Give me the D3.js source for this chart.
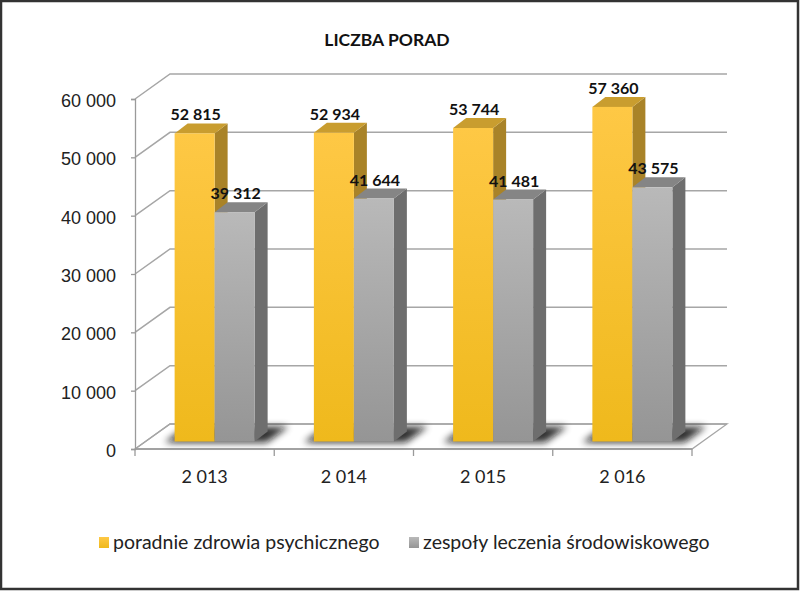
<!DOCTYPE html>
<html>
<head>
<meta charset="utf-8">
<script src="https://cdn.jsdelivr.net/npm/d3@7"></script>
<style>
  body { margin: 0; background: #fff; }
  svg { display: block; font-family: Lato, "Open Sans", sans-serif; }
  .axis text { font-size: 18px; fill: #222; }
  .axis path, .axis line { stroke: #9a9a9a; stroke-width: 1.3; }
</style>
</head>
<body>
<script>
// data
var years = [2013, 2014, 2015, 2016];
var seriesNames = ["poradnie zdrowia psychicznego", "zespoły leczenia środowiskowego"];
var poradnie = [52815, 52934, 53744, 57360];
var zespoly = [39312, 41644, 41481, 43575];
var yTicks = [0, 10000, 20000, 30000, 40000, 50000, 60000];

var width = 800, height = 591;
var wallDx = 35, wallDy = -25;     // depth of the back wall
var barOx = 10, barOy = -7.5;      // bars sit a bit behind the front plane
var barDx = 13, barDy = -10;       // bar depth

var pl = d3.formatLocale({decimal: ",", thousands: "\u00a0", grouping: [3], currency: ["", ""]});
var fmt = pl.format(",");

var svg = d3.select("body").append("svg")
    .attr("width", width)
    .attr("height", height);

var defs = svg.append("defs");
var gy = defs.append("linearGradient").attr("id", "gYellow").attr("x1", 0).attr("x2", 0).attr("y1", 0).attr("y2", 1);
gy.append("stop").attr("offset", "0%").attr("stop-color", "#fec845");
gy.append("stop").attr("offset", "100%").attr("stop-color", "#efb91c");
var gg = defs.append("linearGradient").attr("id", "gGray").attr("x1", 0).attr("x2", 0).attr("y1", 0).attr("y2", 1);
gg.append("stop").attr("offset", "0%").attr("stop-color", "#b9b9b9");
gg.append("stop").attr("offset", "100%").attr("stop-color", "#959595");
defs.append("filter").attr("id", "blur").attr("x", "-50%").attr("y", "-50%").attr("width", "200%").attr("height", "200%")
  .append("feGaussianBlur").attr("stdDeviation", 3.5);

// outer frame
svg.append("rect")
    .attr("x", 1).attr("y", 1)
    .attr("width", width - 3).attr("height", height - 3)
    .attr("fill", "none").attr("stroke", "#333").attr("stroke-width", 2.5);

var x = d3.scaleBand().domain(years).range([135, 692]);
var y = d3.scaleLinear().domain([0, 60000]).range([449, 99]);
var xs = d3.scaleBand().domain(seriesNames).range([-40, 40]);

var colors = {
  front: ["url(#gYellow)", "url(#gGray)"],
  top: ["#c99d2f", "#858585"],
  side: ["#a98328", "#6e6e6e"]
};

// floor
var x0 = x.range()[0], x1 = x.range()[1];
svg.append("path")
    .attr("d", "M" + x0 + "," + y(0) + "L" + x1 + "," + y(0) +
               "L" + (x1 + wallDx) + "," + (y(0) + wallDy) +
               "L" + (x0 + wallDx) + "," + (y(0) + wallDy) + "Z")
    .attr("fill", "#fff").attr("stroke", "#a6a6a6").attr("stroke-width", 1.3);

// walls: left diagonal + back grid lines
svg.append("g").selectAll("path")
    .data(yTicks)
    .enter().append("path")
    .attr("d", function(t) {
      return "M" + x0 + "," + y(t) + "L" + (x0 + wallDx) + "," + (y(t) + wallDy) +
             "L" + (x1 + wallDx) + "," + (y(t) + wallDy);
    })
    .attr("fill", "none").attr("stroke", "#a6a6a6").attr("stroke-width", 1.5);

// y axis
var yAxis = d3.axisLeft(y).tickValues(yTicks).tickSize(4).tickPadding(15).tickFormat(fmt);
svg.append("g").attr("class", "axis")
    .attr("transform", "translate(" + x0 + ",0)")
    .call(yAxis)
    .call(function(g) { g.selectAll("text").attr("dy", "0.42em"); });

// x axis: line, boundary ticks, labels
var xg = svg.append("g").attr("class", "axis");
xg.append("line").attr("x1", x0).attr("x2", x1).attr("y1", y(0)).attr("y2", y(0));
xg.selectAll(".tk")
    .data(years.map(function(d) { return x(d); }).concat([x1]))
    .enter().append("line")
    .attr("x1", function(d) { return d; }).attr("x2", function(d) { return d; })
    .attr("y1", y(0)).attr("y2", y(0) + 7);
xg.selectAll(".lbl")
    .data(years)
    .enter().append("text")
    .attr("x", function(d) { return x(d) + x.bandwidth() / 2; })
    .attr("y", 483)
    .attr("text-anchor", "middle")
    .text(function(d) { return fmt(d); });

var rows = years.map(function(yr, i) {
  return {year: yr, values: [poradnie[i], zespoly[i]]};
});

var gBars = svg.append("g");
rows.forEach(function(r) {
  var c = x(r.year) + x.bandwidth() / 2;
  var bl = c + xs.range()[0] + barOx, br = c + xs.range()[1] + barOx;
  var yb = y(0) + barOy;
  // shadow on the floor
  gBars.append("path")
      .attr("d", "M" + (bl - 10) + "," + (yb + 1) + "L" + (br + 12) + "," + (yb + 1) +
                 "L" + (br + 34) + "," + (yb - 15) + "L" + (bl + 12) + "," + (yb - 15) + "Z")
      .attr("fill", "#111").attr("opacity", 0.85)
      .attr("filter", "url(#blur)");

  r.values.forEach(function(v, j) {
    var bx = c + xs(seriesNames[j]) + barOx, w = xs.bandwidth();
    var yt = y(v) + barOy;
    gBars.append("path")
        .attr("d", "M" + (bx + w) + "," + yt + "L" + (bx + w + barDx) + "," + (yt + barDy) +
                   "L" + (bx + w + barDx) + "," + (yb + barDy) + "L" + (bx + w) + "," + yb + "Z")
        .attr("fill", colors.side[j]);
    gBars.append("path")
        .attr("d", "M" + bx + "," + yt + "L" + (bx + barDx) + "," + (yt + barDy) +
                   "L" + (bx + w + barDx) + "," + (yt + barDy) + "L" + (bx + w) + "," + yt + "Z")
        .attr("fill", colors.top[j]);
    gBars.append("rect")
        .attr("x", bx).attr("y", yt)
        .attr("width", w).attr("height", yb - yt)
        .attr("fill", colors.front[j]);
  });
});

// value labels on top
rows.forEach(function(r) {
  var c = x(r.year) + x.bandwidth() / 2;
  r.values.forEach(function(v, j) {
    var bx = c + xs(seriesNames[j]) + barOx;
    svg.append("text")
        .attr("x", bx + xs.bandwidth() / 2 + 1)
        .attr("y", y(v) + barOy + barDy - 3)
        .attr("text-anchor", "middle")
        .attr("font-size", 16).attr("font-weight", "bold").attr("fill", "#111")
        .text(fmt(v));
  });
});

// title
svg.append("text")
    .attr("x", 387).attr("y", 46)
    .attr("text-anchor", "middle")
    .attr("font-size", 17.5).attr("font-weight", "bold").attr("fill", "#111")
    .text("LICZBA PORAD");

// legend
var legX = [99, 409];
var leg = svg.append("g").selectAll("g")
    .data(seriesNames)
    .enter().append("g")
    .attr("transform", function(d, i) { return "translate(" + legX[i] + ",537)"; });
leg.append("rect")
    .attr("width", 10).attr("height", 11)
    .attr("fill", function(d, i) { return colors.front[i]; });
leg.append("text")
    .attr("x", 14).attr("y", 12)
    .attr("font-size", 19.5).attr("fill", "#222")
    .text(function(d) { return d; });
</script>
</body>
</html>
